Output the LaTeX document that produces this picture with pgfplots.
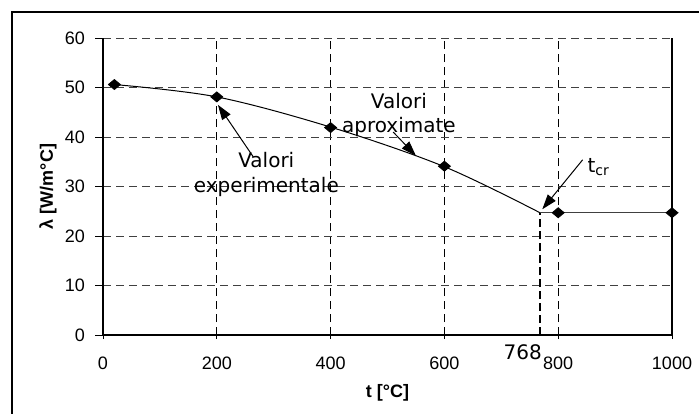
\documentclass[border=0pt]{standalone}
\usepackage{pgfplots}
\pgfplotsset{compat=1.18}
\usetikzlibrary{arrows.meta}
\usepackage{fontspec}
\setmainfont{Liberation Sans}
\newfontfamily\dv{DejaVu Sans}
\begin{document}
\begin{tikzpicture}
\useasboundingbox (-51.5pt,-39pt) rectangle (298pt,167.5pt);
\draw[line width=0.8pt] (-45.5pt,-45pt) -- (-45.5pt,161.5pt) -- (305pt,161.5pt);
\begin{axis}[
  scale only axis, width=284.5pt, height=148.5pt,
  xmin=0, xmax=1000, ymin=0, ymax=60,
  xtick={0,200,...,1000}, ytick={0,10,...,60},
  axis lines=left, axis line style={-},
  x axis line style={line width=0.9pt},
  y axis line style={line width=0.6pt},
  grid=major,
  x grid style={black, dash pattern=on 4pt off 2.5pt, line width=0.4pt},
  y grid style={black!75, dash pattern=on 4pt off 2.5pt, line width=0.4pt},
  xtick style={black, line width=0.5pt},
  ytick style={black, line width=0.5pt},
  xtick align=center, ytick align=outside,
  major tick length=4pt,
  tick label style={font=\fontsize{9}{11}\selectfont},
  /pgf/number format/assume math mode=true,
  /pgf/number format/1000 sep={},
  xticklabel style={yshift=-5.5pt},
  yticklabel style={xshift=-1.5pt},
  xlabel={\textbf{t [°C]}}, ylabel={\textbf{λ [W/m°C]}},
  every axis x label/.style={at={(axis description cs:0.5,0)}, anchor=center, yshift=-29pt, font=\fontsize{9}{11}\selectfont},
  every axis y label/.style={at={(axis description cs:0,0.5)}, anchor=center, xshift=-27.5pt, rotate=90, font=\fontsize{9}{11}\selectfont},
  clip=false,
]
\addplot[black, line width=0.5pt, smooth, tension=0.55] coordinates {(20,50.6)(200,48.1)(400,42)(600,34)(768,24.7)};
\addplot[black!75, line width=0.6pt] coordinates {(768,24.7)(1000,24.7)};
\addplot[black, line width=0.7pt] coordinates {(1000,0)(1000,60)};
\addplot[black, line width=1pt, dash pattern=on 4pt off 2pt] coordinates {(768,0)(768,24.7)};
\addplot[only marks, mark=diamond*, mark size=2.5pt, mark options={black, xscale=1.6}] coordinates {(20,50.6)(200,48.1)(400,41.9)(600,34.1)(800,24.7)(1000,24.7)};
\draw[black, line width=0.5pt, -{Triangle[width=5pt,length=7.5pt]}] (axis cs:264,36) -- (axis cs:202,46.5);
\draw[black, line width=0.5pt, -{Triangle[width=5pt,length=7.5pt]}] (axis cs:510,41) -- (axis cs:550,36.2);
\draw[black, line width=0.5pt, -{Triangle[width=5pt,length=7.5pt]}] (axis cs:843,35.4) -- (axis cs:772,25.4);
\node[font=\dv\fontsize{10}{12.5}\selectfont, align=center] at (axis cs:287,32.5) {Valori\\experimentale};
\node[font=\dv\fontsize{10}{12}\selectfont, align=center] at (axis cs:520,44.5) {Valori\\aproximate};
\node[font=\dv\fontsize{10}{12}\selectfont, anchor=west, inner sep=0pt] at (axis cs:851,33.9) {t\textsubscript{cr}};
\node[font=\dv\fontsize{10}{12}\selectfont, anchor=east, inner sep=0pt] at (axis cs:772,0) [yshift=-8.5pt] {768};
\end{axis}
\end{tikzpicture}
\end{document}
